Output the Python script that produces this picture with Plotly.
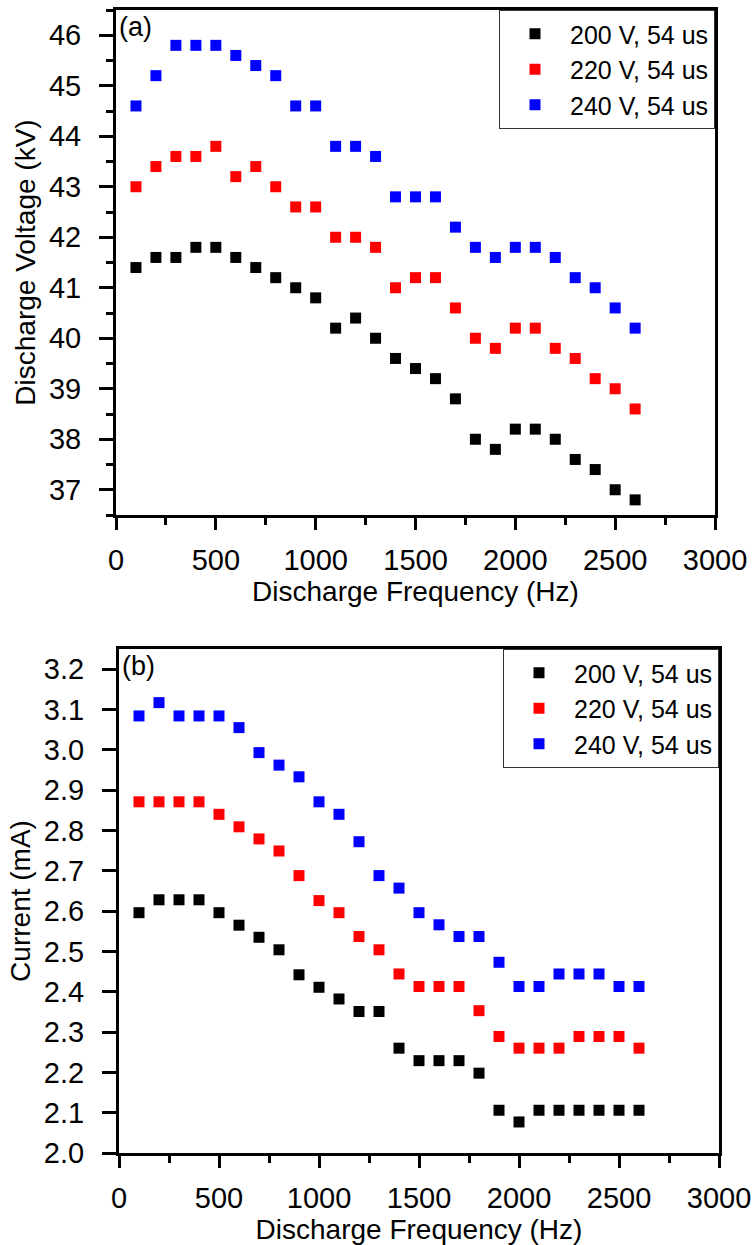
import plotly.graph_objects as go

freq = [100, 200, 300, 400, 500, 600, 700, 800, 900, 1000, 1100, 1200, 1300,
        1400, 1500, 1600, 1700, 1800, 1900, 2000, 2100, 2200, 2300, 2400, 2500, 2600]

series_names = ["200 V, 54 us", "220 V, 54 us", "240 V, 54 us"]
series_colors = ["#000000", "#ff0000", "#0000ff"]

volt_200 = [41.4, 41.6, 41.6, 41.8, 41.8, 41.6, 41.4, 41.2, 41.0, 40.8, 40.2, 40.4, 40.0,
            39.6, 39.4, 39.2, 38.8, 38.0, 37.8, 38.2, 38.2, 38.0, 37.6, 37.4, 37.0, 36.8]
volt_220 = [43.0, 43.4, 43.6, 43.6, 43.8, 43.2, 43.4, 43.0, 42.6, 42.6, 42.0, 42.0, 41.8,
            41.0, 41.2, 41.2, 40.6, 40.0, 39.8, 40.2, 40.2, 39.8, 39.6, 39.2, 39.0, 38.6]
volt_240 = [44.6, 45.2, 45.8, 45.8, 45.8, 45.6, 45.4, 45.2, 44.6, 44.6, 43.8, 43.8, 43.6,
            42.8, 42.8, 42.8, 42.2, 41.8, 41.6, 41.8, 41.8, 41.6, 41.2, 41.0, 40.6, 40.2]

curr_200 = [2.596, 2.628, 2.628, 2.628, 2.596, 2.565, 2.535, 2.504, 2.442, 2.411, 2.382, 2.351, 2.351,
            2.260, 2.229, 2.229, 2.229, 2.198, 2.106, 2.077, 2.106, 2.106, 2.106, 2.106, 2.106, 2.106]
curr_220 = [2.871, 2.871, 2.871, 2.871, 2.840, 2.809, 2.779, 2.749, 2.688, 2.626, 2.596, 2.537, 2.504,
            2.444, 2.413, 2.413, 2.413, 2.353, 2.289, 2.260, 2.260, 2.260, 2.289, 2.289, 2.289, 2.260]
curr_240 = [3.084, 3.117, 3.084, 3.084, 3.084, 3.055, 2.993, 2.962, 2.933, 2.871, 2.840, 2.772, 2.688,
            2.657, 2.596, 2.566, 2.537, 2.537, 2.473, 2.413, 2.413, 2.444, 2.444, 2.444, 2.413, 2.413]

FONT = "Arial, Liberation Sans, sans-serif"
W, H = 753, 1245
TICK_SIZE = 29
TITLE_SIZE = 28
LEG_SIZE = 25

fig = go.Figure()

for name, color, vals in zip(series_names, series_colors, [volt_200, volt_220, volt_240]):
    fig.add_trace(go.Scatter(x=freq, y=vals, mode="markers", name=name,
                             marker=dict(symbol="square", size=11, color=color, line=dict(width=0)),
                             xaxis="x", yaxis="y", legend="legend"))
for name, color, vals in zip(series_names, series_colors, [curr_200, curr_220, curr_240]):
    fig.add_trace(go.Scatter(x=freq, y=vals, mode="markers", name=name,
                             marker=dict(symbol="square", size=11, color=color, line=dict(width=0)),
                             xaxis="x2", yaxis="y2", legend="legend2"))

axis_common = dict(showline=True, linecolor="black", linewidth=3, mirror=True,
                   ticks="outside", tickwidth=3, tickcolor="black",
                   showgrid=False, zeroline=False, automargin=False,
                   tickfont=dict(family=FONT, size=TICK_SIZE, color="black"))

# panel geometry (px)
t_l, t_r, t_t, t_b = 116, 715, 10, 515
b_l, b_r, b_t, b_b = 119, 719, 649, 1153

fig.update_layout(
    width=W, height=H, margin=dict(l=0, r=0, t=0, b=0),
    paper_bgcolor="white", plot_bgcolor="white",
    font=dict(family=FONT, color="black"),
    xaxis=dict(domain=[t_l / W, t_r / W], anchor="y", range=[0, 3000], dtick=500, tick0=0,
               ticklen=12, ticklabelstandoff=5,
               minor=dict(dtick=250, ticks="outside", ticklen=7, tickwidth=3, tickcolor="black"),
               title=dict(text="Discharge Frequency (Hz)", font=dict(family=FONT, size=TITLE_SIZE), standoff=4),
               **axis_common),
    yaxis=dict(domain=[1 - t_b / H, 1 - t_t / H], anchor="x", range=[36.5, 46.5], dtick=1, tick0=37,
               ticklen=14, ticklabelstandoff=12,
               minor=dict(dtick=0.5, ticks="outside", ticklen=7, tickwidth=3, tickcolor="black"),
               title=dict(text="Discharge Voltage (kV)", font=dict(family=FONT, size=TITLE_SIZE), standoff=6),
               **axis_common),
    xaxis2=dict(domain=[b_l / W, b_r / W], anchor="y2", range=[0, 3000], dtick=500, tick0=0,
                ticklen=12, ticklabelstandoff=5,
                minor=dict(dtick=250, ticks="outside", ticklen=7, tickwidth=3, tickcolor="black"),
                title=dict(text="Discharge Frequency (Hz)", font=dict(family=FONT, size=TITLE_SIZE), standoff=4),
                **axis_common),
    yaxis2=dict(domain=[1 - b_b / H, 1 - b_t / H], anchor="x2", range=[2.0, 3.25], dtick=0.1, tick0=2.0,
                tickformat=".1f", ticklen=14, ticklabelstandoff=12,
                title=dict(text="Current (mA)", font=dict(family=FONT, size=TITLE_SIZE), standoff=6),
                **axis_common),
    legend=dict(x=t_r / W, y=1 - t_t / H, xanchor="right", yanchor="top",
                bgcolor="white", bordercolor="#333333", borderwidth=1,
                font=dict(family=FONT, size=LEG_SIZE, color="black"), itemwidth=60,
                tracegroupgap=0),
    legend2=dict(x=b_r / W, y=1 - b_t / H, xanchor="right", yanchor="top",
                 bgcolor="white", bordercolor="#333333", borderwidth=1,
                 font=dict(family=FONT, size=LEG_SIZE, color="black"), itemwidth=60,
                 tracegroupgap=0),
    annotations=[
        dict(text="(a)", x=t_l / W + 0.001, y=1 - t_t / H, xref="paper", yref="paper",
             xanchor="left", yanchor="top", showarrow=False,
             font=dict(family=FONT, size=27, color="black")),
        dict(text="(b)", x=b_l / W + 0.001, y=1 - b_t / H, xref="paper", yref="paper",
             xanchor="left", yanchor="top", showarrow=False,
             font=dict(family=FONT, size=27, color="black")),
    ],
)

fig.write_html("out.html")
